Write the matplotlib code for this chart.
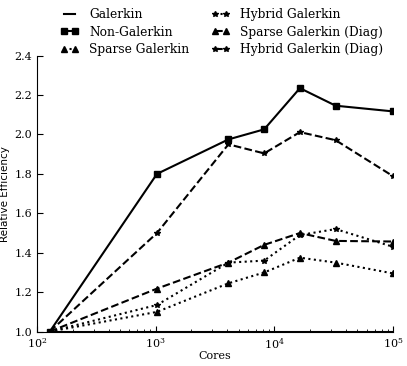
import matplotlib
matplotlib.use("Agg")
import matplotlib.pyplot as plt

plt.rcParams["font.family"] = "DejaVu Serif"
plt.rcParams["mathtext.fontset"] = "dejavuserif"

cores = [128, 1024, 4096, 8192, 16384, 32768, 100000]

galerkin = [1.0, 1.0, 1.0, 1.0, 1.0, 1.0, 1.0]
non_galerkin = [1.0, 1.80, 1.975, 2.026, 2.235, 2.146, 2.117]
sparse_galerkin = [1.0, 1.10, 1.245, 1.30, 1.375, 1.35, 1.295]
hybrid_galerkin = [1.0, 1.135, 1.35, 1.36, 1.49, 1.52, 1.43]
sparse_diag = [1.0, 1.218, 1.35, 1.44, 1.50, 1.46, 1.457]
hybrid_diag = [1.0, 1.50, 1.95, 1.904, 2.012, 1.971, 1.788]

fig = plt.figure(figsize=(4.07, 3.66), dpi=100)
ax = fig.add_axes([0.091, 0.094, 0.875, 0.754])

lw = 1.5
ms = 3.8
ax.plot(cores, galerkin, "k-", lw=lw, label="Galerkin")
ax.plot(cores, non_galerkin, "k-", marker="s", ms=ms, lw=lw, label="Non-Galerkin")
ax.plot(cores, sparse_galerkin, "k:", marker="^", ms=ms, lw=lw, label="Sparse Galerkin")
ax.plot(cores, hybrid_galerkin, "k:", marker="*", ms=ms, lw=lw, label="Hybrid Galerkin")
ax.plot(cores, sparse_diag, "k--", marker="^", ms=ms, lw=lw, label="Sparse Galerkin (Diag)")
ax.plot(cores, hybrid_diag, "k--", marker="*", ms=ms, lw=lw, label="Hybrid Galerkin (Diag)")

ax.set_xscale("log")
ax.set_xlim(1e2, 1e5)
ax.set_ylim(1.0, 2.4)
ax.set_yticks([1.0, 1.2, 1.4, 1.6, 1.8, 2.0, 2.2, 2.4])
ax.set_xlabel("Cores", fontsize=8, labelpad=0)
ax.set_ylabel("Relative Efficiency", fontsize=7.5, family="DejaVu Sans")
ax.yaxis.set_label_coords(-0.076, 0.5)

ax.spines["top"].set_visible(False)
ax.spines["right"].set_visible(False)
ax.tick_params(which="both", direction="in", top=False, right=False, labelsize=8)
ax.tick_params(which="major", length=4)
ax.tick_params(which="minor", length=2)

fig.legend(*ax.get_legend_handles_labels(), loc="center", bbox_to_anchor=(0.545, 0.912),
           ncol=2, frameon=False, numpoints=2, fontsize=8.8, handlelength=1.5,
           handletextpad=0.9, columnspacing=1.75, labelspacing=0.35, borderpad=0)

fig.savefig("out.png", dpi=100)
